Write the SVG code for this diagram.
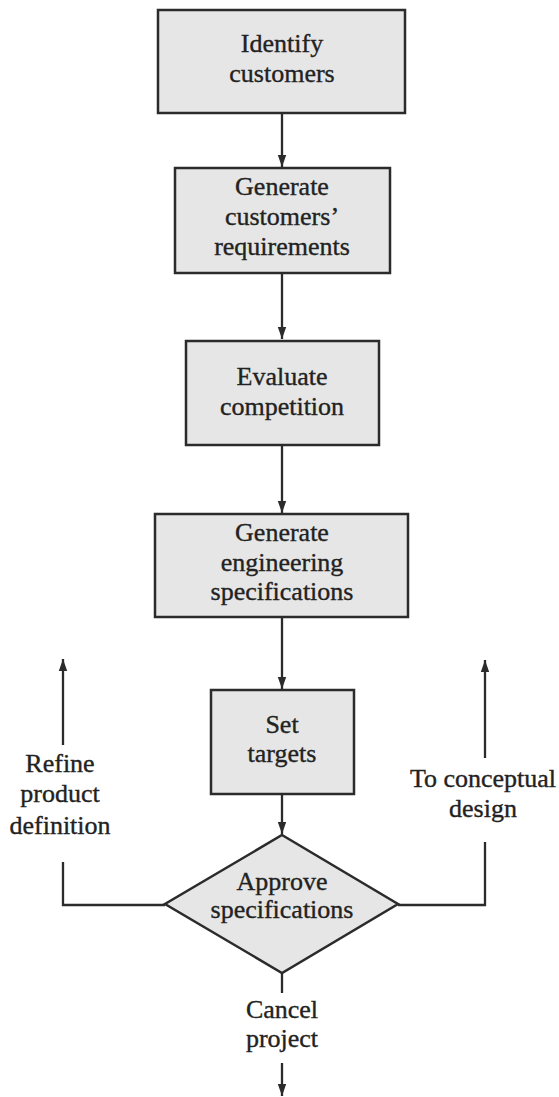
<svg xmlns="http://www.w3.org/2000/svg" width="559" height="1097" viewBox="0 0 559 1097">
  <style>
    .box { fill: #e6e6e6; stroke: #2b2b2b; stroke-width: 2.5; }
    .lbl { font-family: "Liberation Serif", "Times New Roman", serif; font-size: 26px; fill: #222; stroke: #222; stroke-width: 0.35; text-anchor: middle; }
    .wire { fill: none; stroke: #2b2b2b; stroke-width: 2.3; }
  </style>
  <defs>
    <marker id="head" viewBox="0 0 12 16" refX="12" refY="8" markerWidth="12" markerHeight="16" markerUnits="userSpaceOnUse" orient="auto">
      <path d="M0,3.8 L12,8 L0,12.2 Z" fill="#2b2b2b"/>
    </marker>
  </defs>

  <rect width="559" height="1097" fill="#ffffff"/>

  <!-- connectors -->
  <g id="connectors">
    <line class="wire" x1="282" y1="113" x2="282" y2="167" marker-end="url(#head)"/>
    <line class="wire" x1="282" y1="273" x2="282" y2="339" marker-end="url(#head)"/>
    <line class="wire" x1="282" y1="445" x2="282" y2="513" marker-end="url(#head)"/>
    <line class="wire" x1="282" y1="617" x2="282" y2="689" marker-end="url(#head)"/>
    <line class="wire" x1="282" y1="794" x2="282" y2="834" marker-end="url(#head)"/>
    <!-- left: refine product definition -->
    <polyline class="wire" points="165,905 63,905 63,862"/>
    <line class="wire" x1="63" y1="745" x2="63" y2="659" marker-end="url(#head)"/>
    <!-- right: to conceptual design -->
    <polyline class="wire" points="398,905 485,905 485,842"/>
    <line class="wire" x1="485" y1="758" x2="485" y2="660" marker-end="url(#head)"/>
    <!-- bottom: cancel project -->
    <line class="wire" x1="282" y1="973" x2="282" y2="993"/>
    <line class="wire" x1="282" y1="1063" x2="282" y2="1096" marker-end="url(#head)"/>
  </g>

  <g id="identify-customers">
    <rect class="box" x="158" y="10" width="247" height="103"/>
    <text class="lbl" x="282" y="52">Identify</text>
    <text class="lbl" x="282" y="82">customers</text>
  </g>

  <g id="generate-requirements">
    <rect class="box" x="175" y="168" width="215" height="105"/>
    <text class="lbl" x="282" y="195">Generate</text>
    <text class="lbl" x="282" y="225">customers’</text>
    <text class="lbl" x="282" y="255">requirements</text>
  </g>

  <g id="evaluate-competition">
    <rect class="box" x="186" y="341" width="193" height="104"/>
    <text class="lbl" x="282" y="385">Evaluate</text>
    <text class="lbl" x="282" y="415">competition</text>
  </g>

  <g id="generate-specifications">
    <rect class="box" x="155" y="514" width="253" height="103"/>
    <text class="lbl" x="282" y="541">Generate</text>
    <text class="lbl" x="282" y="571">engineering</text>
    <text class="lbl" x="282" y="600">specifications</text>
  </g>

  <g id="set-targets">
    <rect class="box" x="211" y="690" width="143" height="104"/>
    <text class="lbl" x="282" y="733">Set</text>
    <text class="lbl" x="282" y="762">targets</text>
  </g>

  <g id="approve-specifications">
    <polygon class="box" points="282,835 398,904 282,973 165,904"/>
    <text class="lbl" x="282" y="890">Approve</text>
    <text class="lbl" x="282" y="918">specifications</text>
  </g>

  <g id="refine-definition">
    <text class="lbl" x="60" y="772">Refine</text>
    <text class="lbl" x="60" y="802">product</text>
    <text class="lbl" x="60" y="834">definition</text>
  </g>

  <g id="conceptual-design">
    <text class="lbl" x="483" y="787">To conceptual</text>
    <text class="lbl" x="483" y="817">design</text>
  </g>

  <g id="cancel-project">
    <text class="lbl" x="282" y="1018">Cancel</text>
    <text class="lbl" x="282" y="1047">project</text>
  </g>
</svg>
